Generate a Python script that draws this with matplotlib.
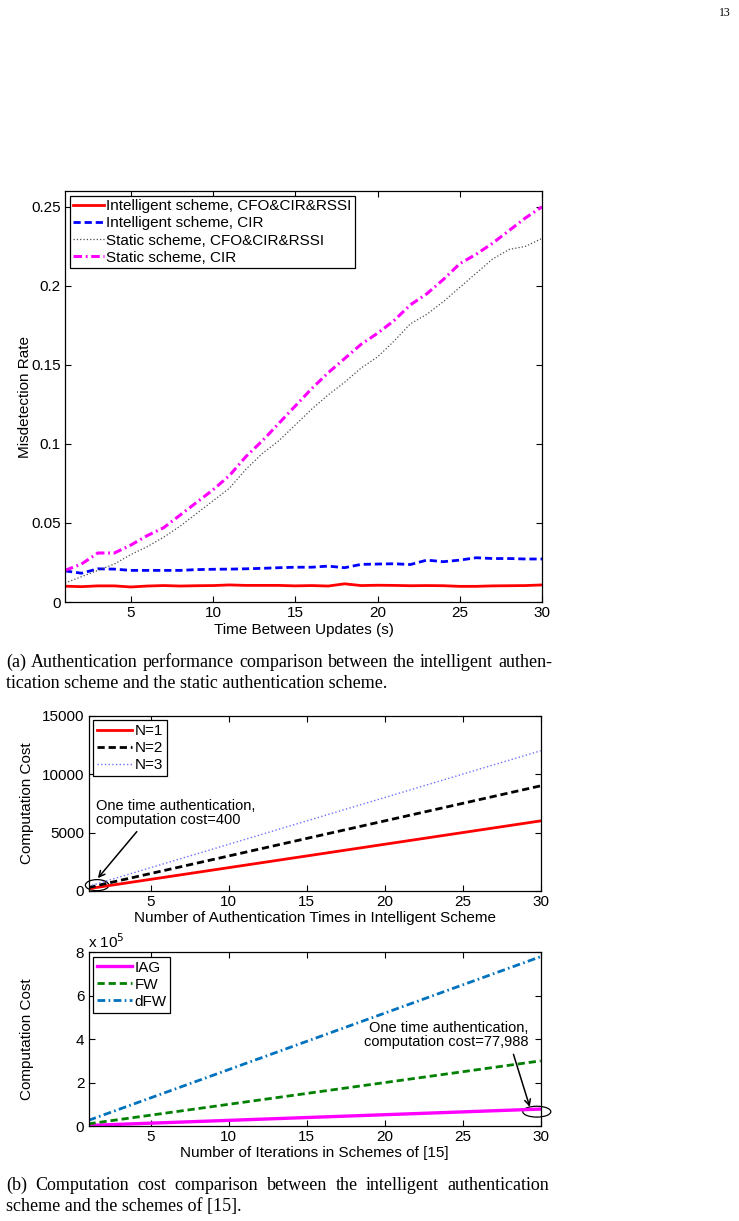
import matplotlib
matplotlib.use("Agg")
import matplotlib.pyplot as plt
from matplotlib.patches import Ellipse
from matplotlib.ticker import FuncFormatter

W, H = 739, 1221

# ---- data ----
t_updates = list(range(1, 31))
intel_all = [0.0100, 0.0097, 0.0102, 0.0102, 0.0095, 0.0101, 0.0104, 0.0101, 0.0103, 0.0104,
             0.0108, 0.0105, 0.0105, 0.0105, 0.0102, 0.0104, 0.0101, 0.0115, 0.0104, 0.0106,
             0.0105, 0.0103, 0.0104, 0.0103, 0.0099, 0.0099, 0.0102, 0.0103, 0.0104, 0.0108]
intel_cir = [0.0197, 0.0182, 0.0210, 0.0208, 0.0200, 0.0200, 0.0200, 0.0200, 0.0205, 0.0207,
             0.0208, 0.0210, 0.0213, 0.0217, 0.0220, 0.0220, 0.0227, 0.0217, 0.0238, 0.0240,
             0.0242, 0.0237, 0.0265, 0.0255, 0.0265, 0.0280, 0.0275, 0.0275, 0.0272, 0.0272]
static_all = [0.012, 0.016, 0.020, 0.024, 0.030, 0.035, 0.041, 0.048, 0.056, 0.064,
              0.072, 0.084, 0.094, 0.102, 0.112, 0.122, 0.131, 0.139, 0.148, 0.155,
              0.165, 0.176, 0.182, 0.190, 0.199, 0.208, 0.217, 0.223, 0.225, 0.230]
static_cir = [0.020, 0.024, 0.031, 0.031, 0.036, 0.042, 0.047, 0.055, 0.063, 0.071,
              0.080, 0.092, 0.102, 0.113, 0.124, 0.135, 0.145, 0.154, 0.163, 0.170,
              0.178, 0.188, 0.195, 0.204, 0.214, 0.220, 0.227, 0.235, 0.243, 0.250]

n_auth = list(range(1, 31))
cost_n1 = [200, 400, 600, 800, 1000, 1200, 1400, 1600, 1800, 2000, 2200, 2400, 2600, 2800, 3000,
           3200, 3400, 3600, 3800, 4000, 4200, 4400, 4600, 4800, 5000, 5200, 5400, 5600, 5800, 6000]
cost_n2 = [300, 600, 900, 1200, 1500, 1800, 2100, 2400, 2700, 3000, 3300, 3600, 3900, 4200, 4500,
           4800, 5100, 5400, 5700, 6000, 6300, 6600, 6900, 7200, 7500, 7800, 8100, 8400, 8700, 9000]
cost_n3 = [400, 800, 1200, 1600, 2000, 2400, 2800, 3200, 3600, 4000, 4400, 4800, 5200, 5600, 6000,
           6400, 6800, 7200, 7600, 8000, 8400, 8800, 9200, 9600, 10000, 10400, 10800, 11200, 11600, 12000]

n_iter = list(range(1, 31))
cost_iag = [2600, 5200, 7800, 10400, 13000, 15600, 18200, 20800, 23400, 26000,
            28600, 31200, 33800, 36400, 39000, 41600, 44200, 46800, 49400, 52000,
            54600, 57200, 59800, 62400, 65000, 67600, 70200, 72800, 75400, 77988]
cost_fw = [10000, 20000, 30000, 40000, 50000, 60000, 70000, 80000, 90000, 100000,
           110000, 120000, 130000, 140000, 150000, 160000, 170000, 180000, 190000, 200000,
           210000, 220000, 230000, 240000, 250000, 260000, 270000, 280000, 290000, 300000]
cost_dfw = [26000, 52000, 78000, 104000, 130000, 156000, 182000, 208000, 234000, 260000,
            286000, 312000, 338000, 364000, 390000, 416000, 442000, 468000, 494000, 520000,
            546000, 572000, 598000, 624000, 650000, 676000, 702000, 728000, 754000, 780000]

plt.rcParams['font.family'] = ['Liberation Sans', 'DejaVu Sans']
plt.rcParams['font.size'] = 11
plt.rcParams['axes.linewidth'] = 0.9

fig = plt.figure(figsize=(W / 100, H / 100), dpi=100)

DASH = (2.6, 1.4)
DASHDOT = (2.8, 1.2, 0.6, 1.2)


def box(l, t, r, b):
    return [l / W, 1 - b / H, (r - l) / W, (b - t) / H]


def style(ax):
    ax.tick_params(direction='in', top=True, right=True, length=4, width=0.8, labelsize=11, pad=3)
    ax.set_xlim(1, 30)
    ax.set_xticks([5, 10, 15, 20, 25, 30])


def legend(ax, hl=2.0):
    leg = ax.legend(loc='upper left', fontsize=11, handlelength=hl, handletextpad=0.15,
                    labelspacing=0.2, borderpad=0.25, borderaxespad=0.3, fancybox=False,
                    framealpha=1, edgecolor='black')
    leg.get_frame().set_linewidth(0.9)
    return leg


# ---- (a) misdetection rate ----
ax1 = fig.add_axes(box(65, 191, 542, 602))
ax1.plot(t_updates, intel_all, color='#ff0000', lw=2.0, label='Intelligent scheme, CFO&CIR&RSSI')
ax1.plot(t_updates, intel_cir, color='#0000ff', lw=2.0, ls='--', dashes=DASH, label='Intelligent scheme, CIR')
ax1.plot(t_updates, static_all, color='#4d4d4d', lw=0.9, ls=':', label='Static scheme, CFO&CIR&RSSI')
ax1.plot(t_updates, static_cir, color='#ff00ff', lw=2.2, dashes=DASHDOT, label='Static scheme, CIR')
style(ax1)
ax1.set_ylim(0, 0.26)
ax1.set_yticks([0, 0.05, 0.1, 0.15, 0.2, 0.25])
ax1.set_yticklabels(['0', '0.05', '0.1', '0.15', '0.2', '0.25'])
ax1.set_xlabel('Time Between Updates (s)', fontsize=11, labelpad=2)
ax1.set_ylabel('Misdetection Rate', fontsize=11)
ax1.yaxis.set_label_coords(-0.07, 0.5)
legend(ax1)

# ---- (b) top: intelligent scheme cost ----
ax2 = fig.add_axes(box(88.5, 715.7, 540.7, 891))
ax2.plot(n_auth, cost_n1, color='#ff0000', lw=2.0, label='N=1')
ax2.plot(n_auth, cost_n2, color='black', lw=2.0, dashes=DASH, label='N=2')
ax2.plot(n_auth, cost_n3, color='#7070ff', lw=1.0, ls=':', label='N=3')
style(ax2)
ax2.set_ylim(0, 15000)
ax2.set_yticks([0, 5000, 10000, 15000])
ax2.set_xlabel('Number of Authentication Times in Intelligent Scheme', fontsize=11, labelpad=1)
ax2.set_ylabel('Computation Cost', fontsize=11)
ax2.yaxis.set_label_coords(-0.12, 0.5)
legend(ax2, 2.3)
ax2.add_patch(Ellipse((1.55, 500), 1.5, 950, fill=False, color='black', lw=0.9, clip_on=False))
ax2.annotate('One time authentication,\ncomputation cost=400', xy=(1.6, 1100), xytext=(1.5, 5500),
             fontsize=10.5, ha='left', va='bottom', linespacing=1.0,
             arrowprops=dict(arrowstyle='->', color='black', lw=1.1, shrinkA=2, shrinkB=0,
                             relpos=(0.28, 0)))

# ---- (b) bottom: schemes of [15] ----
ax3 = fig.add_axes(box(88.5, 952.3, 540.7, 1126))
ax3.plot(n_iter, cost_iag, color='#ff00ff', lw=2.4, label='IAG')
ax3.plot(n_iter, cost_fw, color='#008000', lw=2.0, dashes=DASH, label='FW')
ax3.plot(n_iter, cost_dfw, color='#0072bd', lw=2.0, dashes=DASHDOT, label='dFW')
style(ax3)
ax3.set_ylim(0, 8e5)
ax3.set_yticks([0, 2e5, 4e5, 6e5, 8e5])
ax3.yaxis.set_major_formatter(FuncFormatter(lambda v, p: f'{v / 1e5:g}'))
ax3.text(0.0, 1.005, r'x 10$^5$', transform=ax3.transAxes, fontsize=11, ha='left', va='bottom')
ax3.set_xlabel('Number of Iterations in Schemes of [15]', fontsize=11, labelpad=1)
ax3.set_ylabel('Computation Cost', fontsize=11)
ax3.yaxis.set_label_coords(-0.12, 0.5)
legend(ax3, 2.3)
ax3.add_patch(Ellipse((29.75, 66000), 1.8, 50000, fill=False, color='black', lw=0.9, clip_on=False))
ax3.annotate('One time authentication,\ncomputation cost=77,988', xy=(29.3, 88000), xytext=(29.2, 355000),
             fontsize=10.5, ha='right', va='bottom', linespacing=1.0,
             arrowprops=dict(arrowstyle='->', color='black', lw=1.1, shrinkA=2, shrinkB=0,
                             relpos=(0.9, 0)))

# ---- captions ----
serif = ['Liberation Serif', 'DejaVu Serif']
fig.text(719 / W, 1 - 13 / H, '13', family=serif, fontsize=8.5, ha='left', va='center')

renderer = fig.canvas.get_renderer()


def justified(y, line, x0, x1, size=13):
    words = line.split(' ')
    texts = [fig.text(0, 1 - y / H, w, family=serif, fontsize=size, va='baseline') for w in words]
    widths = [t.get_window_extent(renderer).width for t in texts]
    gap = (x1 - x0 - sum(widths)) / (len(words) - 1)
    x = x0
    for t, w in zip(texts, widths):
        t.set_x(x / W)
        x += w + gap


def plain(y, line, x0, size=13):
    fig.text(x0 / W, 1 - y / H, line, family=serif, fontsize=size, va='baseline')


justified(667, '(a) Authentication performance comparison between the intelligent authen-', 6, 552)
plain(688, 'tication scheme and the static authentication scheme.', 6)
justified(1190, '(b) Computation cost comparison between the intelligent authentication', 6, 549)
plain(1211, 'scheme and the schemes of [15].', 6)

fig.savefig('out.png', dpi=100)
